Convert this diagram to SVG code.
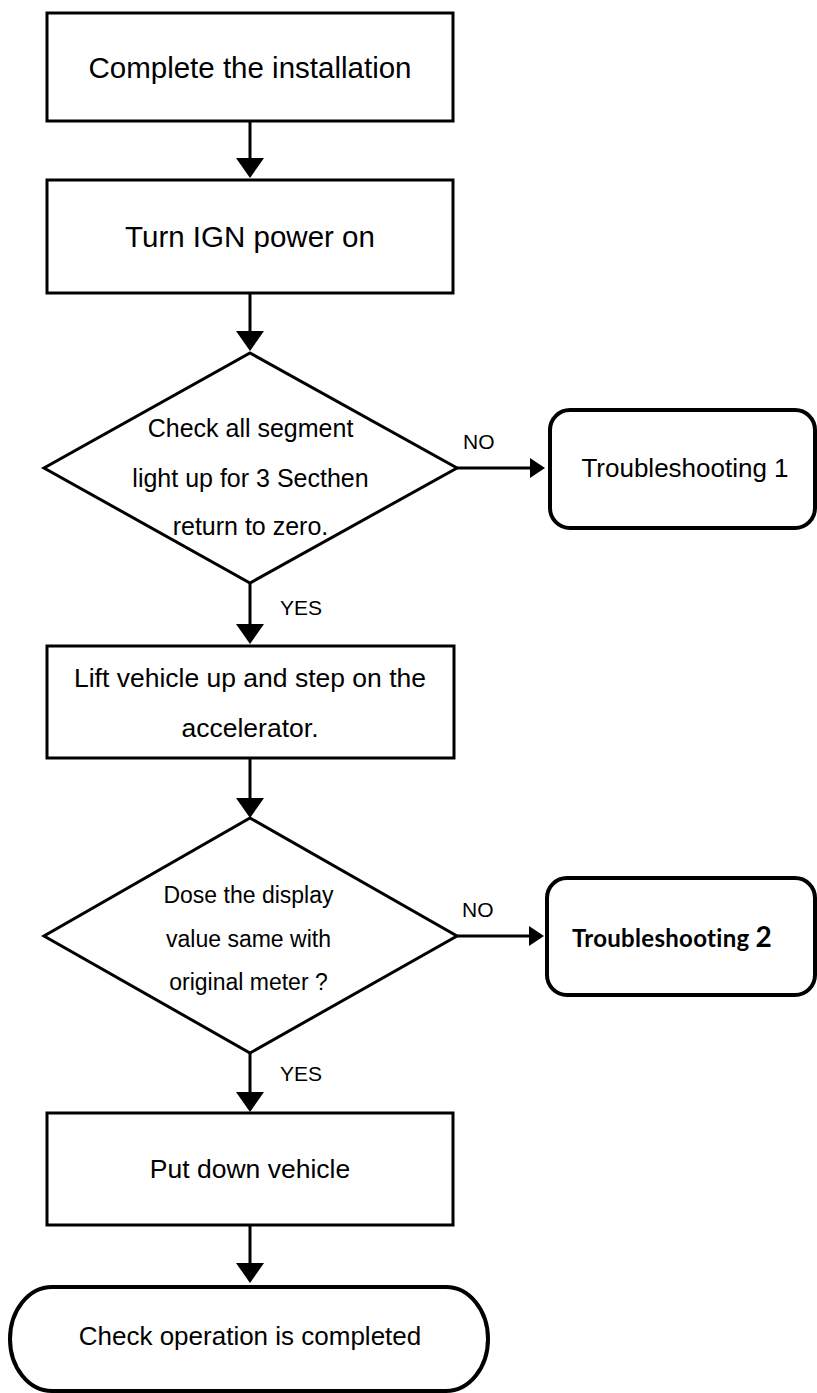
<svg xmlns="http://www.w3.org/2000/svg" width="817" height="1393" viewBox="0 0 817 1393">
  <style>
    .box { fill: #ffffff; stroke: #000000; stroke-width: 3; }
    .rbox { fill: #ffffff; stroke: #000000; stroke-width: 4; }
    .dia { fill: #ffffff; stroke: #000000; stroke-width: 3; stroke-linejoin: miter; }
    .conn { fill: none; stroke: #000000; stroke-width: 3; }
    .t { font-family: "Liberation Sans", Arial, sans-serif; fill: #000000; text-anchor: middle; }
    .big { font-size: 29.5px; }
    .mid { font-size: 26.5px; }
    .d1 { font-size: 25px; }
    .d2 { font-size: 23px; }
    .lbl { font-family: "Liberation Sans", Arial, sans-serif; fill: #000000; font-size: 21px; }
    .cal { font-family: Lato, "Open Sans", sans-serif; font-weight: bold; fill: #000000; }
  </style>
  <defs>
    <marker id="arrV" markerUnits="userSpaceOnUse" markerWidth="20" markerHeight="28" viewBox="0 0 20 28" refX="0" refY="14" orient="auto">
      <path d="M0,0 L20,14 L0,28 Z" fill="#000000"/>
    </marker>
    <marker id="arrH" markerUnits="userSpaceOnUse" markerWidth="15" markerHeight="20" viewBox="0 0 15 20" refX="0" refY="10" orient="auto">
      <path d="M0,0 L15,10 L0,20 Z" fill="#000000"/>
    </marker>
  </defs>

  <g id="connectors">
    <line class="conn" x1="250" y1="121" x2="250" y2="158" marker-end="url(#arrV)"/>
    <line class="conn" x1="250" y1="293" x2="250" y2="331" marker-end="url(#arrV)"/>
    <line class="conn" x1="457" y1="468" x2="530" y2="468" marker-end="url(#arrH)"/>
    <line class="conn" x1="250" y1="583" x2="250" y2="624" marker-end="url(#arrV)"/>
    <line class="conn" x1="250" y1="758" x2="250" y2="798" marker-end="url(#arrV)"/>
    <line class="conn" x1="457" y1="936" x2="529" y2="936" marker-end="url(#arrH)"/>
    <line class="conn" x1="250" y1="1053" x2="250" y2="1092" marker-end="url(#arrV)"/>
    <line class="conn" x1="250" y1="1225" x2="250" y2="1263" marker-end="url(#arrV)"/>
    <text class="lbl" x="463" y="449">NO</text>
    <text class="lbl" x="280" y="615">YES</text>
    <text class="lbl" x="462" y="917">NO</text>
    <text class="lbl" x="280" y="1081">YES</text>
  </g>

  <g id="complete-installation">
    <rect class="box" x="47" y="13" width="406" height="108"/>
    <text class="t big" x="250" y="78">Complete the installation</text>
  </g>

  <g id="turn-ign-on">
    <rect class="box" x="47" y="180" width="406" height="113"/>
    <text class="t big" x="250" y="247">Turn IGN power on</text>
  </g>

  <g id="check-segments">
    <polygon class="dia" points="250,353 457,468 250,583 44,468"/>
    <text class="t d1" x="250.5" y="437">Check all segment</text>
    <text class="t d1" x="250.5" y="487">light up for 3 Secthen</text>
    <text class="t d1" x="250.5" y="535">return to zero.</text>
  </g>

  <g id="troubleshooting-1">
    <rect class="rbox" x="550" y="410" width="265" height="118" rx="20" ry="20"/>
    <text class="t" style="font-size:26px" x="685" y="477">Troubleshooting 1</text>
  </g>

  <g id="lift-vehicle">
    <rect class="box" x="47" y="646" width="407" height="112"/>
    <text class="t mid" x="250" y="687">Lift vehicle up and step on the</text>
    <text class="t mid" x="250" y="737">accelerator.</text>
  </g>

  <g id="display-same">
    <polygon class="dia" points="250,818 457,936 250,1053 44,936"/>
    <text class="t d2" x="248.5" y="903">Dose the display</text>
    <text class="t d2" x="248.5" y="947">value same with</text>
    <text class="t d2" x="248.5" y="990">original meter ?</text>
  </g>

  <g id="troubleshooting-2">
    <rect class="rbox" x="547" y="878" width="268" height="117" rx="20" ry="20"/>
    <text class="cal" x="572" y="947"><tspan style="font-size:24px;letter-spacing:0.3px">Troubleshooting </tspan><tspan style="font-size:28px">2</tspan></text>
  </g>

  <g id="put-down-vehicle">
    <rect class="box" x="47" y="1113" width="406" height="112"/>
    <text class="t mid" x="250" y="1178">Put down vehicle</text>
  </g>

  <g id="check-completed">
    <rect class="rbox" x="10" y="1287" width="478" height="104" rx="42" ry="52"/>
    <text class="t" style="font-size:26px" x="250" y="1345">Check operation is completed</text>
  </g>
</svg>
